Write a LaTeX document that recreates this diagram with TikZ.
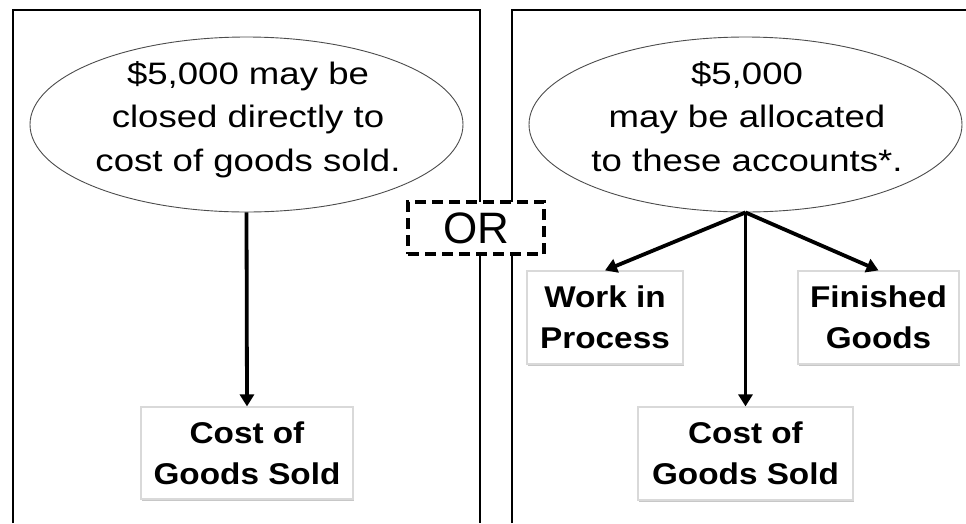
\documentclass[tikz,border=0pt]{standalone}
\usepackage{fontspec}
\setmainfont{Liberation Sans}
\newfontfamily\ovalfont[FakeStretch=1.18]{Liberation Sans}
\newfontfamily\acctfont[FakeStretch=1.11]{Liberation Sans}
\usetikzlibrary{shapes.geometric,arrows.meta,shadows}

\begin{document}
\begin{tikzpicture}[x=1pt,y=-1pt,
  panel/.style={line width=2pt},
  oval/.style={ellipse, draw=black!70, line width=0.9pt, fill=white,
    minimum width=433pt, minimum height=175pt, inner sep=0pt},
  ovaltext/.style={align=center, inner sep=0pt, text depth=0pt,
    font=\ovalfont\fontsize{31}{43.5}\selectfont},
  acct/.style={draw=black!15, line width=1.2pt, fill=white, align=center,
    inner sep=0pt, text depth=0pt,
    font=\acctfont\bfseries\fontsize{30}{41}\selectfont,
    drop shadow={shadow xshift=1.2pt, shadow yshift=-1.5pt, fill=black!22, opacity=1}},
  flow/.style={line width=3.8pt, -{Triangle[length=12pt,width=14pt]}},
  orbox/.style={draw, dash pattern=on 11pt off 6pt, line width=4pt,
    fill=white, minimum width=136pt, minimum height=52pt, inner sep=0pt,
    font=\fontsize{44}{44}\selectfont}
]
\useasboundingbox (0,0) rectangle (966,523);

% the two open-bottomed panels
\draw[panel] (13,523) -- (13,10) -- (480,10) -- (480,523);
\draw[panel] (512,523) -- (512,10) -- (966,10);

% left panel: close directly
\node[oval] (eL) at (246.5,124.5) {};
\node[ovaltext] (tL) at (248,116.5) {\$5,000 may be\\closed directly to\\cost of goods sold.};
\node[acct, minimum width=212pt, minimum height=92pt] (cogsL) at (247,453) {Cost of\\Goods Sold};
\draw[flow] (eL.south) -- (cogsL.north);

% right panel: allocate
\node[oval] (eR) at (745.5,124.5) {};
\node[ovaltext] (tR) at (747,116.5) {\$5,000\\may be allocated\\to these accounts*.};
\node[acct, minimum width=156pt, minimum height=93pt] (wip) at (605,317.5) {Work in\\Process};
\node[acct, minimum width=161pt, minimum height=93pt] (fg) at (878.5,317.5) {Finished\\Goods};
\node[acct, minimum width=215pt, minimum height=93pt] (cogsR) at (745.5,453.5) {Cost of\\Goods Sold};
\draw[flow] (eR.south) -- (wip.north);
\draw[flow] (eR.south) -- (cogsR.north);
\draw[flow] (eR.south) -- (fg.north);

% the alternative marker between the panels
\node[orbox] (or) at (476,228) {OR};
\end{tikzpicture}
\end{document}
